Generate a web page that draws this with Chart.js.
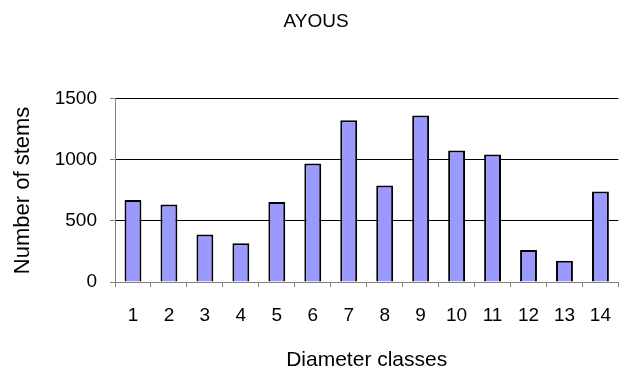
<!DOCTYPE html>
<html>
<head>
<meta charset="utf-8">
<script src="https://cdn.jsdelivr.net/npm/chart.js@4.4.1/dist/chart.umd.min.js"></script>
<style>
  html, body { margin: 0; padding: 0; background: #fff; }
  #wrap { width: 628px; height: 373px; position: relative; }
</style>
</head>
<body>
<div id="wrap"><canvas id="chart-stems"></canvas></div>
<script>
const classes = ['1', '2', '3', '4', '5', '6', '7', '8', '9', '10', '11', '12', '13', '14'];
const stems = [671, 635, 388, 318, 654, 971, 1324, 791, 1363, 1076, 1043, 263, 175, 741];
const yTicks = [0, 500, 1000, 1500];

const font = 'Liberation Sans, Arial, sans-serif';

new Chart(document.getElementById('chart-stems'), {
  type: 'bar',
  data: {
    labels: classes,
    datasets: [{
      label: 'AYOUS',
      data: stems,
      backgroundColor: '#9999ff',
      borderColor: '#000',
      borderWidth: 2,
      borderSkipped: 'bottom',
      barPercentage: 0.47,
      categoryPercentage: 1
    }]
  },
  options: {
    responsive: true,
    maintainAspectRatio: false,
    animation: false,
    layout: { padding: { left: 0, right: -4, top: 0, bottom: 0 } },
    plugins: {
      legend: { display: false },
      tooltip: { enabled: false },
      title: {
        display: true,
        text: 'AYOUS',
        color: '#000',
        font: { family: font, size: 19, weight: 'normal' },
        padding: { top: 10, bottom: 66 }
      }
    },
    scales: {
      x: {
        offset: true,
        afterFit: axis => { axis.height = 373 - 282; },
        grid: { display: true, offset: true, drawOnChartArea: false, tickLength: 5, color: '#808080' },
        border: { color: '#808080', width: 1 },
        ticks: { color: '#000', font: { family: font, size: 19 }, padding: 17 },
        title: {
          display: true, text: 'Diameter classes', color: '#000',
          font: { family: font, size: 21 }, padding: 0
        }
      },
      y: {
        min: 0,
        max: 1500,
        afterBuildTicks: axis => { axis.ticks = yTicks.map(v => ({ value: v })); },
        afterFit: axis => { axis.width = 115; },
        grid: { color: ctx => ctx.tick.value === 0 ? '#808080' : '#000', tickColor: '#808080', tickLength: 5 },
        border: { color: '#808080', width: 1 },
        ticks: { color: '#000', font: { family: font, size: 19 }, padding: 13, callback: v => String(v) },
        title: {
          display: true, text: 'Number of stems', color: '#000',
          font: { family: font, size: 22 }, padding: { top: 10, bottom: 0 }
        }
      }
    }
  }
});
</script>
</body>
</html>
